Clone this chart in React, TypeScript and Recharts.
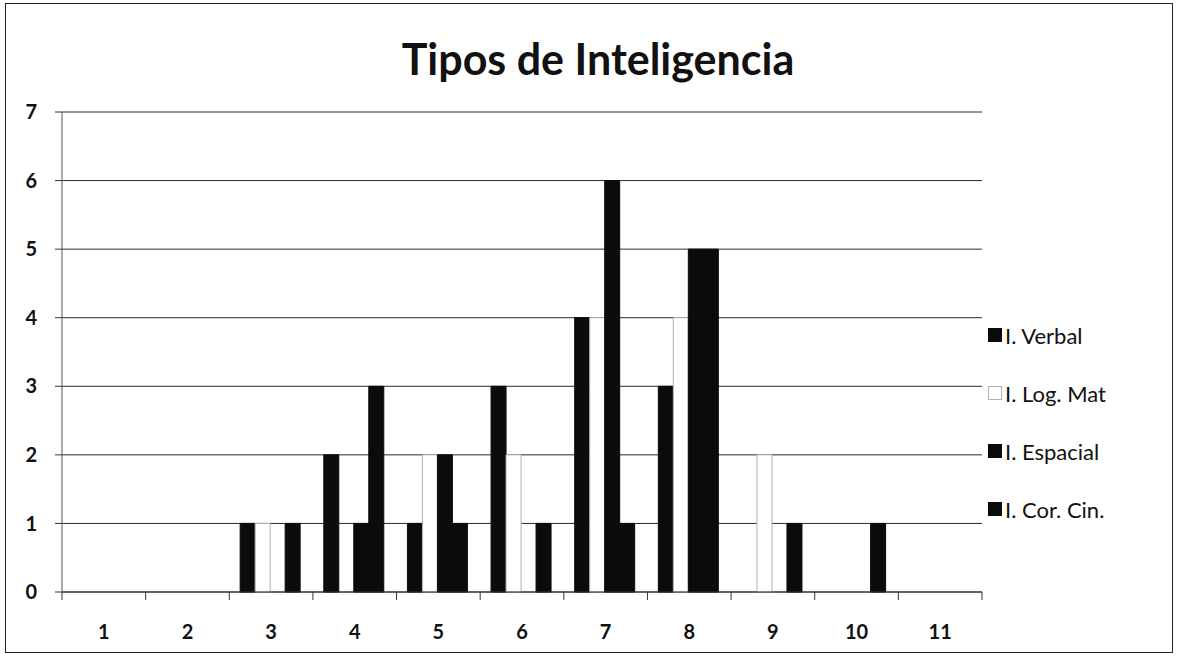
import { BarChart, Bar, XAxis, YAxis, CartesianGrid, Legend } from "recharts";

const categories = ["1", "2", "3", "4", "5", "6", "7", "8", "9", "10", "11"];
const verbal = [0, 0, 1, 2, 1, 3, 4, 3, 0, 0, 0];
const logMat = [0, 0, 1, 0, 2, 2, 4, 4, 2, 0, 0];
const espacial = [0, 0, 0, 1, 2, 0, 6, 5, 0, 0, 0];
const corCin = [0, 0, 1, 3, 1, 1, 1, 5, 1, 1, 0];
const yTicks = [0, 1, 2, 3, 4, 5, 6, 7];

const series = [
  { key: "verbal", name: "I. Verbal", fill: "#0b0b0b", stroke: "#0b0b0b" },
  { key: "logMat", name: "I. Log. Mat", fill: "#ffffff", stroke: "#b0b0b0" },
  { key: "espacial", name: "I. Espacial", fill: "#0b0b0b", stroke: "#0b0b0b" },
  { key: "corCin", name: "I. Cor. Cin.", fill: "#0b0b0b", stroke: "#0b0b0b" },
];

const data = categories.map((c, i) => ({
  name: c,
  verbal: verbal[i],
  logMat: logMat[i],
  espacial: espacial[i],
  corCin: corCin[i],
}));

const W = 1180;
const H = 660;
const margin = { top: 112, right: 198, bottom: 38, left: 22 };
const plotWidth = W - margin.right - margin.left - 40;
const step = plotWidth / categories.length;

// category label plus tick marks on the category boundaries
function XTick(props: any) {
  const { x, y, payload, index } = props;
  const last = index === categories.length - 1;
  return (
    <g>
      <line x1={x - step / 2} x2={x - step / 2} y1={y} y2={y + 8} stroke="#333" />
      {last && <line x1={x + step / 2} x2={x + step / 2} y1={y} y2={y + 8} stroke="#333" />}
      <text
        x={x}
        y={y + 47}
        textAnchor="middle"
        fontFamily="Lato, sans-serif"
        fontWeight="bold"
        fontSize={20}
        fill="#111"
      >
        {payload.value}
      </text>
    </g>
  );
}

function LegendBox() {
  return (
    <div style={{ fontFamily: "Lato, sans-serif", fontSize: 22, color: "#111" }}>
      {series.map((s) => (
        <div key={s.key} style={{ display: "flex", alignItems: "center", height: 58 }}>
          <span
            style={{
              display: "inline-block",
              width: 12,
              height: 12,
              marginRight: 3,
              background: s.fill,
              border: `1px solid ${s.stroke}`,
            }}
          />
          {s.name}
        </div>
      ))}
    </div>
  );
}

export default function App() {
  return (
    <div style={{ position: "relative", width: W, height: H, background: "#fff" }}>
      <style>{"body{margin:0}"}</style>
      <div
        style={{
          position: "absolute",
          left: 5,
          top: 3,
          width: 1166,
          height: 648,
          border: "1.5px solid #222",
          pointerEvents: "none",
        }}
      />
      <div
        style={{
          position: "absolute",
          left: 0,
          width: 1196,
          top: 34,
          textAlign: "center",
          fontFamily: "Lato, sans-serif",
          fontWeight: "bold",
          fontSize: 43,
          color: "#111",
          lineHeight: "50px",
        }}
      >
        Tipos de Inteligencia
      </div>
      <BarChart
        width={W}
        height={H}
        data={data}
        margin={margin}
        barCategoryGap="13%"
        barGap={0}
      >
        <CartesianGrid vertical={false} stroke="#2a2a2a" />
        <XAxis
          dataKey="name"
          tick={<XTick />}
          tickLine={false}
          tickSize={0}
          tickMargin={0}
          height={30}
          interval={0}
          axisLine={{ stroke: "#333" }}
        />
        <YAxis
          domain={[0, 7]}
          ticks={yTicks}
          width={40}
          tickSize={7}
          tickMargin={18}
          axisLine={{ stroke: "#555" }}
          tickLine={{ stroke: "#333" }}
          tick={{ fontFamily: "Lato, sans-serif", fontWeight: "bold", fontSize: 20, fill: "#111" }}
        />
        <Legend
          layout="vertical"
          align="center"
          verticalAlign="middle"
          content={<LegendBox />}
          wrapperStyle={{ left: 988, top: 306, width: 190 }}
        />
        {series.map((s) => (
          <Bar
            key={s.key}
            dataKey={s.key}
            name={s.name}
            fill={s.fill}
            stroke={s.stroke}
            strokeWidth={1}
            isAnimationActive={false}
          />
        ))}
      </BarChart>
    </div>
  );
}
